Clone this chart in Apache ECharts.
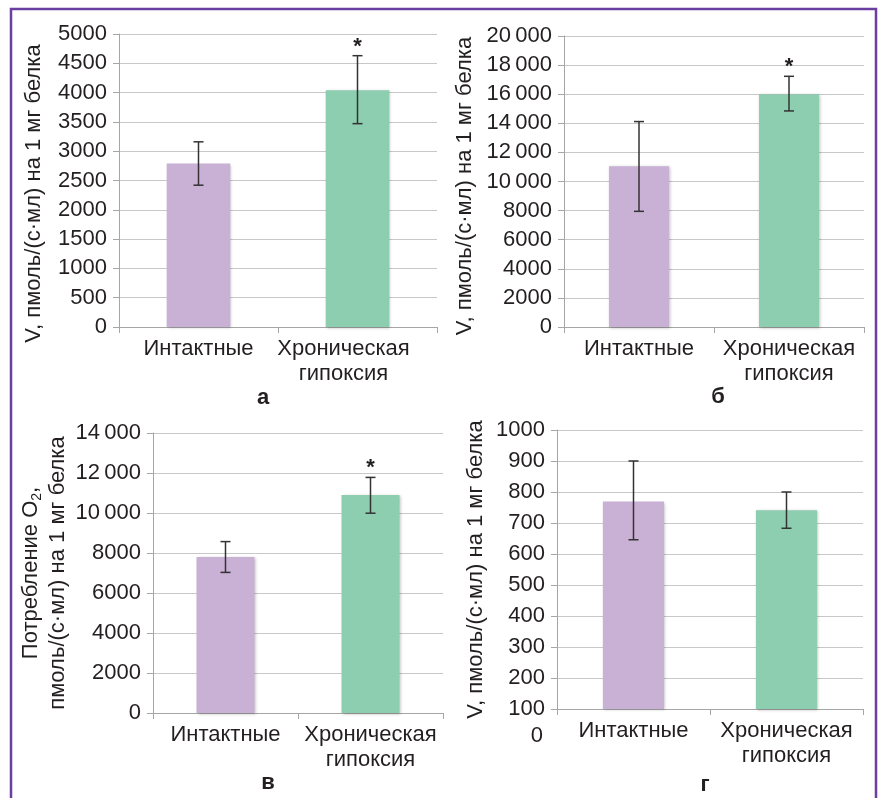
<!DOCTYPE html>
<html>
<head>
<meta charset="utf-8">
<script src="https://cdn.jsdelivr.net/npm/echarts@6/dist/echarts.min.js"></script>
<style>
  html, body { margin: 0; padding: 0; background: #fff; }
  #chart { width: 878px; height: 798px; }
</style>
</head>
<body>
<div id="chart"></div>
<script>
// categories
const categories = ['Интактные', 'Хроническая\nгипоксия']
const barColors = ['#c9b0d5', '#8dcdb0']

// а
const meansA = [2790, 4040]
const lowA = [2420, 3470]
const highA = [3160, 4630]
const sigA = [false, true]

// б
const meansB = [11050, 16000]
const lowB = [7950, 14850]
const highB = [14120, 17230]
const sigB = [false, true]

// в
const meansC = [7800, 10900]
const lowC = [7030, 9990]
const highC = [8570, 11780]
const sigC = [false, true]

// г
const meansD = [769, 741]
const lowD = [646, 683]
const highD = [900, 800]
const sigD = [false, false]

const panelLetters = ['а', 'б', 'в', 'г']

const FONT = "'Liberation Sans', Arial, sans-serif"
const TXT = '#231f20'

function spaced(v) {
  // 20 000 style thousands with a thin space, only for 5-digit numbers
  return v >= 10000 ? String(v).replace(/(\d+)(\d{3})$/, '$1\u2009$2') : String(v)
}

function barSeries(idx, means) {
  return {
    type: 'bar',
    xAxisIndex: idx,
    yAxisIndex: idx,
    barWidth: '40%',
    data: means.map((v, i) => ({
      value: v,
      itemStyle: {
        color: barColors[i],
        shadowColor: 'rgba(0,0,0,0.25)',
        shadowBlur: 3,
        shadowOffsetX: 1,
        shadowOffsetY: 1
      }
    })),
    silent: true
  }
}

function errSeries(idx, low, high, sig) {
  return {
    type: 'custom',
    xAxisIndex: idx,
    yAxisIndex: idx,
    silent: true,
    z: 5,
    data: low.map((l, i) => [i, l, high[i], sig[i] ? 1 : 0]),
    encode: { x: 0, y: [1, 2] },
    renderItem(params, api) {
      const x = api.value(0)
      const lo = api.coord([x, api.value(1)])
      const hi = api.coord([x, api.value(2)])
      const cap = 5
      const style = { stroke: '#333', lineWidth: 1.5 }
      const children = [
        { type: 'line', shape: { x1: lo[0], y1: lo[1], x2: hi[0], y2: hi[1] }, style },
        { type: 'line', shape: { x1: hi[0] - cap, y1: hi[1], x2: hi[0] + cap, y2: hi[1] }, style },
        { type: 'line', shape: { x1: lo[0] - cap, y1: lo[1], x2: lo[0] + cap, y2: lo[1] }, style }
      ]
      if (api.value(3)) {
        // звёздочка над усом
        children.push({
          type: 'text',
          style: {
            text: '*', x: hi[0], y: hi[1] + 2,
            align: 'center', verticalAlign: 'bottom',
            font: 'bold 22px ' + FONT, fill: TXT
          }
        })
      }
      return { type: 'group', children }
    }
  }
}

const grids = [
  { left: 119, top: 34, width: 318, height: 293 },
  { left: 564, top: 36, width: 300, height: 291 },
  { left: 153, top: 433, width: 290, height: 280 },
  { left: 557, top: 430, width: 306, height: 279 }
]

function xAxis(idx, shiftSecond) {
  return {
    type: 'category',
    gridIndex: idx,
    data: categories.map((c, i) => (i === 1 && shiftSecond
      ? { value: c, textStyle: { padding: [0, 28, 0, 0] } }
      : c)),
    axisLine: { lineStyle: { color: '#a6a6a6', width: 1 } },
    axisTick: { show: true, length: 6, lineStyle: { color: '#a6a6a6' } },
    axisLabel: {
      color: TXT, fontFamily: FONT, fontSize: 22, lineHeight: 25, margin: 9, interval: 0
    }
  }
}

function yAxis(idx, min, max, interval, fmt, name, nameGap, namePad) {
  return {
    type: 'value',
    gridIndex: idx,
    min, max, interval,
    axisLine: { show: true, lineStyle: { color: '#a6a6a6', width: 1 } },
    axisTick: { show: true, length: 6, lineStyle: { color: '#a6a6a6' } },
    splitLine: { lineStyle: { color: '#c8c8c8', width: 1 } },
    axisLabel: { color: TXT, fontFamily: FONT, fontSize: 22, margin: 12, formatter: fmt },
    name,
    nameLocation: 'middle',
    nameGap,
    nameTextStyle: {
      color: TXT, fontFamily: FONT, fontSize: 22, lineHeight: 27,
      padding: namePad,
      rich: {
        sub: { fontSize: 14, verticalAlign: 'bottom', color: TXT, fontFamily: FONT }
      }
    }
  }
}

const titleV = 'V, пмоль/(с·мл) на 1 мг белка'

const chart = echarts.init(document.getElementById('chart'), null, { renderer: 'canvas' })
chart.setOption({
  backgroundColor: '#fff',
  animation: false,
  textStyle: { fontFamily: FONT },
  grid: grids,
  xAxis: [xAxis(0, true), xAxis(1), xAxis(2), xAxis(3)],
  yAxis: [
    yAxis(0, 0, 5000, 500, v => String(v), titleV, 72, [0, 26, 0, 0]),
    yAxis(1, 0, 20000, 2000, spaced, titleV, 86, [0, 9, 0, 0]),
    yAxis(2, 0, 14000, 2000, spaced, 'Потребление O{sub|2},\nпмоль/(с·мл) на 1 мг белка', 82, 0),
    yAxis(3, 100, 1000, 100, v => String(v), titleV, 68, 0)
  ],
  series: [
    barSeries(0, meansA), errSeries(0, lowA, highA, sigA),
    barSeries(1, meansB), errSeries(1, lowB, highB, sigB),
    barSeries(2, meansC), errSeries(2, lowC, highC, sigC),
    barSeries(3, meansD), errSeries(3, lowD, highD, sigD)
  ],
  graphic: [
    {
      type: 'rect',
      shape: { x: 11, y: 9, width: 865, height: 800 },
      style: { fill: null, stroke: '#6a3fa0', lineWidth: 2.5 },
      silent: true
    },
    // лишний "0" под осью на панели г
    {
      type: 'text', x: 543, y: 736,
      style: { text: '0', align: 'right', verticalAlign: 'middle', font: '22px ' + FONT, fill: TXT }
    },
    ...[[263, 398], [718, 397], [268, 783], [705, 785]].map((p, i) => ({
      type: 'text', x: p[0], y: p[1],
      style: {
        text: panelLetters[i], align: 'center', verticalAlign: 'middle',
        font: 'bold 22px ' + FONT, fill: TXT
      }
    }))
  ]
})
window.addEventListener('resize', () => chart.resize())
</script>
</body>
</html>
